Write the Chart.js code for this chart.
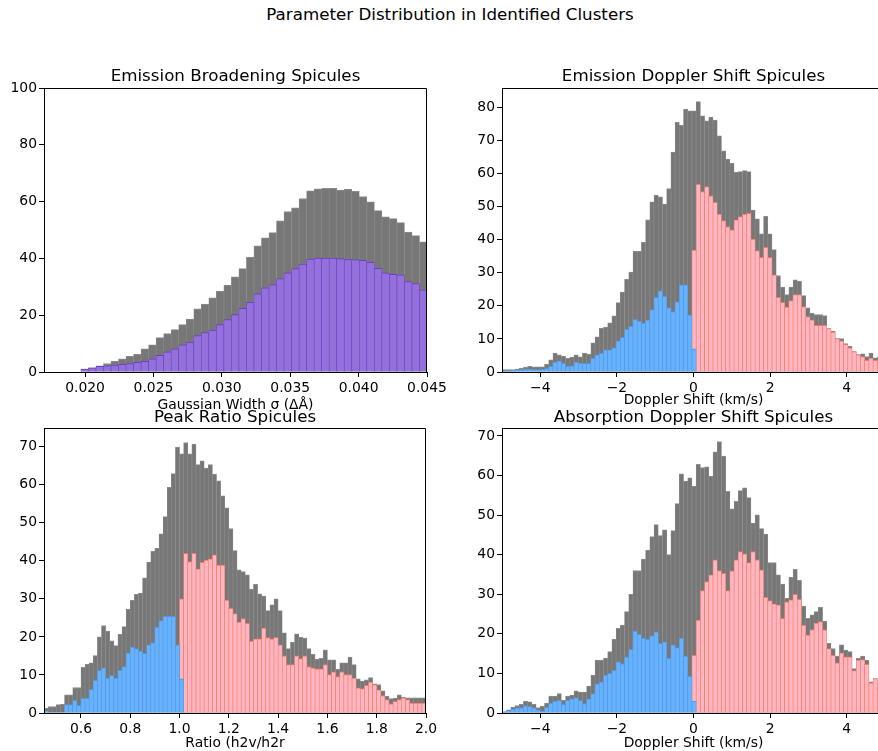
<!DOCTYPE html>
<html>
<head>
<meta charset="utf-8">
<title>Parameter Distribution in Identified Clusters</title>
<script src="https://cdn.jsdelivr.net/npm/chart.js@4.4.1/dist/chart.umd.min.js"></script>
<style>
  html, body { margin: 0; padding: 0; background: #fff; }
  body { width: 878px; height: 751px; overflow: hidden; position: relative; font-family: "DejaVu Sans", sans-serif; }
  #suptitle { position: absolute; left: 0; top: 4px; width: 900px; text-align: center; font-size: 16.7px; line-height: 20px; color: #000; }
  canvas { position: absolute; }
</style>
</head>
<body>
<div id="suptitle">Parameter Distribution in Identified Clusters</div>
<canvas id="broad" width="460" height="347" style="left:0;top:67px"></canvas>
<canvas id="emis" width="440" height="342" style="left:460px;top:67px"></canvas>
<canvas id="ratio" width="460" height="344" style="left:0;top:408px"></canvas>
<canvas id="absorp" width="440" height="344" style="left:460px;top:408px"></canvas>
<script>
// --- Emission broadening (gaussian width) ---
const broadBinStart = 0.0197;
const broadBinWidth = 0.00055;
const broadAll = [1.0, 1.5, 2.2, 3.0, 3.8, 4.6, 5.5, 6.2, 8.2, 9.6, 12.1, 13.5, 14.9, 16.7, 18.6, 22.2, 23.9, 26.1, 28.5, 30.6,
  33.5, 36.4, 40.5, 44.4, 47.2, 49.1, 53.2, 56.5, 57.8, 61.1, 63.8, 64.5, 64.7, 64.7, 64.1, 64.4, 63.6, 61.8, 59.9, 56.8,
  54.6, 54.0, 52.6, 49.3, 48.0, 45.8];
const broadCluster = [1.0, 1.5, 2.0, 2.2, 2.4, 2.7, 3.0, 3.4, 3.8, 4.6, 5.9, 7.1, 8.2, 9.6, 10.5, 12.8, 13.9, 14.8, 16.7, 18.5,
  20.2, 22.4, 24.5, 27.5, 29.6, 30.8, 32.9, 34.9, 36.4, 38.0, 39.8, 40.1, 40.1, 40.1, 39.9, 39.6, 39.6, 39.3, 38.6, 36.5,
  34.9, 34.4, 34.2, 31.8, 31.1, 28.9];
const broadXTicks = [0.020, 0.025, 0.030, 0.035, 0.040, 0.045];
const broadYTicks = [0, 20, 40, 60, 80, 100];

// --- doppler shift bins (shared by emission and absorption) ---
const dopBinStart = -4.99;
const dopBinWidth = 0.11;
const dopRedFirstBin = 45;
const dopXTicks = [-4, -2, 0, 2, 4];

// emission doppler shift
const emisAll = [0.7, 0.7, 0.7, 0.9, 1.1, 1.5, 1.7, 1.6, 1.6, 1.6,
  2.3, 3.7, 5.7, 5.2, 4.8, 4.1, 4.5, 5.2, 4.6, 5.7,
  5.4, 8.8, 10.6, 13.2, 13.6, 14.9, 17.0, 21.0, 24.2, 28.0,
  30.2, 36.5, 36.5, 39.2, 46.0, 51.5, 53.5, 53.0, 50.8, 55.5,
  66.5, 75.5, 74.6, 79.5, 79.0, 79.0, 81.8, 77.5, 76.0, 77.0,
  76.2, 71.4, 66.9, 64.4, 63.1, 60.4, 60.6, 60.9, 60.6, 49.0,
  46.3, 41.8, 47.1, 41.8, 37.0, 29.2, 25.7, 23.4, 25.7, 27.9,
  27.5, 23.1, 19.4, 17.8, 17.4, 17.4, 17.1, 13.1, 12.4, 10.1,
  10.1, 8.6, 7.8, 6.2, 5.3, 5.5, 4.7, 5.7, 4.3, 4.5];
const emisBlue = [0.4, 0.4, 0.5, 0.5, 0.7, 0.9, 0.9, 0.7, 0.7, 0.9,
  1.1, 1.7, 3.0, 3.4, 2.7, 1.7, 1.9, 3.0, 2.7, 2.6,
  2.6, 4.2, 5.2, 5.7, 6.7, 6.7, 7.3, 9.4, 10.5, 13.0,
  13.8, 15.9, 15.4, 14.8, 15.8, 18.9, 22.6, 24.6, 22.9, 19.5,
  18.3, 21.2, 26.4, 26.4, 17.3, 7.0];
const emisRed = [36.9, 56.8, 54.6, 56.1, 53.3, 51.3, 47.8, 45.8, 44.0, 43.0,
  46.0, 47.0, 47.8, 48.0, 40.2, 36.7, 34.7, 37.7, 34.7, 29.4,
  22.6, 21.1, 19.6, 21.6, 23.4, 23.4, 19.8, 16.8, 15.8, 14.1,
  14.1, 14.1, 13.1, 12.1, 10.1, 9.4, 8.4, 7.3, 6.2, 5.2,
  4.7, 3.5, 4.2, 3.5, 3.7];
const emisYTicks = [0, 10, 20, 30, 40, 50, 60, 70, 80];

// absorption doppler shift
const absAll = [0.3, 0.8, 1.5, 1.9, 2.2, 3.0, 2.8, 2.2, 1.4, 1.7,
  2.5, 4.3, 4.3, 4.9, 3.2, 4.3, 4.5, 5.6, 5.3, 5.3,
  6.8, 9.6, 13.4, 13.4, 13.9, 15.5, 18.6, 21.4, 22.2, 25.6,
  30.0, 36.0, 36.0, 38.9, 41.1, 44.6, 47.6, 44.8, 46.3, 40.0,
  46.1, 52.9, 60.4, 58.6, 59.4, 57.3, 62.8, 62.0, 62.2, 59.8,
  66.0, 68.6, 64.9, 56.0, 51.6, 53.5, 56.2, 56.9, 54.4, 48.0,
  50.1, 46.6, 45.2, 38.0, 38.0, 34.9, 32.6, 29.0, 34.3, 36.3,
  33.5, 27.0, 23.9, 24.8, 25.6, 26.7, 23.2, 17.6, 16.3, 14.4,
  17.2, 15.9, 15.5, 11.2, 13.8, 14.4, 13.4, 7.9, 8.7, 6.3];
const absBlue = [0.3, 0.7, 1.0, 1.3, 1.4, 1.9, 1.7, 1.3, 0.8, 0.4,
  1.5, 2.5, 3.0, 3.2, 2.2, 3.2, 3.6, 3.9, 3.2, 2.4,
  3.6, 4.9, 7.4, 7.9, 9.6, 10.0, 10.8, 12.9, 12.5, 14.2,
  16.1, 20.7, 19.9, 18.9, 18.6, 19.5, 20.5, 17.6, 18.0, 13.9,
  17.2, 16.5, 18.9, 14.4, 9.3, 3.0];
const absRed = [14.6, 23.5, 30.9, 33.2, 34.9, 38.7, 36.0, 35.3, 30.9, 35.9,
  38.7, 40.8, 40.2, 38.0, 40.8, 38.7, 36.2, 29.2, 28.4, 27.6,
  27.3, 23.9, 28.1, 28.6, 30.0, 28.7, 22.2, 19.7, 21.1, 22.7,
  23.1, 21.0, 16.3, 14.6, 12.7, 15.2, 14.2, 14.2, 10.7, 13.4,
  13.5, 12.3, 7.6, 8.7, 6.2];
const absYTicks = [0, 10, 20, 30, 40, 50, 60, 70];

// --- peak ratio ---
const ratioBinStart = 0.45;
const ratioBinWidth = 1 / 60;
const ratioRedFirstBin = 33;
const ratioAll = [1.3, 1.7, 1.7, 2.2, 2.3, 4.8, 4.8, 6.7, 6.7, 12.0,
  12.8, 13.2, 15.1, 20.0, 23.0, 21.5, 19.0, 17.7, 20.7, 22.7,
  27.3, 29.6, 31.2, 31.5, 35.5, 39.7, 42.5, 43.3, 47.1, 51.6,
  59.3, 62.9, 69.9, 68.1, 71.1, 68.1, 70.7, 65.3, 66.3, 64.4,
  65.3, 62.8, 61.0, 57.1, 53.9, 48.5, 42.7, 37.6, 37.2, 36.3,
  32.6, 33.8, 31.3, 30.7, 26.9, 28.4, 30.0, 26.9, 21.1, 16.9,
  18.6, 20.8, 19.9, 19.7, 16.9, 15.4, 14.1, 14.4, 16.6, 14.0,
  14.0, 11.5, 13.2, 13.2, 14.7, 12.7, 9.0, 8.4, 8.7, 9.3,
  7.7, 7.5, 5.8, 4.4, 3.8, 3.9, 4.8, 4.2, 4.0, 4.0,
  4.0, 4.0, 4.0];
const ratioBlue = [0.5, 0.2, 0.2, 0.2, 0.2, 2.2, 2.2, 3.3, 2.0, 3.9,
  3.9, 6.2, 8.6, 11.2, 11.9, 9.2, 9.9, 9.2, 11.2, 12.2,
  15.8, 17.3, 16.9, 16.3, 15.7, 17.9, 18.5, 22.6, 24.3, 25.4,
  25.4, 25.4, 17.9, 9.0];
const ratioRed = [30.0, 42.0, 39.8, 42.0, 37.9, 39.6, 40.2, 40.5, 41.6, 38.9,
  38.9, 29.7, 27.5, 26.1, 23.9, 24.8, 23.6, 18.9, 19.5, 19.5,
  22.3, 19.8, 19.5, 19.9, 17.9, 15.0, 12.7, 12.7, 15.0, 14.3,
  15.0, 12.2, 11.9, 11.6, 11.6, 12.7, 10.1, 10.8, 9.6, 10.8,
  10.1, 10.1, 9.2, 6.6, 6.4, 7.3, 8.1, 7.5, 6.1, 4.6,
  3.5, 2.4, 3.1, 3.5, 4.0, 3.5, 2.6, 2.6, 2.6, 2.6];
const ratioXTicks = [0.6, 0.8, 1.0, 1.2, 1.4, 1.6, 1.8, 2.0];
const ratioYTicks = [0, 10, 20, 30, 40, 50, 60, 70];

Chart.defaults.font.family = '"DejaVu Sans", sans-serif';
Chart.defaults.color = '#000';

const GREY = { bg: '#777777', edge: '#8c8c8c' };
const PURPLE = { bg: '#9370DB', edge: '#6b3fc2' };
const BLUE = { bg: '#66B2FF', edge: '#5296e0' };
const RED = { bg: '#FFB6C1', edge: '#F9765E' };

function toBins(start, width, counts, firstBin) {
  return counts.map((c, k) => ({ x: start + width * (firstBin + k + 0.5), y: c }));
}

function histSet(points, col, order) {
  return {
    data: points,
    backgroundColor: col.bg,
    borderColor: col.edge,
    borderWidth: { top: 1, left: 0.6, right: 0.6, bottom: 0 },
    barPercentage: 1,
    categoryPercentage: 1,
    grouped: false,
    order: order
  };
}

// draws the top and right spines
const frame = {
  id: 'frame',
  afterDatasetsDraw(chart) {
    const { ctx, chartArea: a } = chart;
    const t = Math.round(a.top) + 0.5, r = Math.round(a.right) - 0.5;
    ctx.save();
    ctx.strokeStyle = '#000';
    ctx.lineWidth = 1;
    ctx.beginPath();
    ctx.moveTo(a.left, t);
    ctx.lineTo(r, t);
    ctx.lineTo(r, a.bottom);
    ctx.stroke();
    ctx.restore();
  }
};

const minus = v => String(v).replace('-', '\u2212');

function panel(id, p) {
  const axisCommon = {
    grid: { drawOnChartArea: false, drawTicks: true, tickLength: 5, color: '#000', offset: false },
    border: { display: true, color: '#000', width: 1, z: 1 }
  };
  new Chart(document.getElementById(id), {
    type: 'bar',
    data: { datasets: p.datasets },
    options: {
      responsive: false,
      animation: false,
      devicePixelRatio: 1,
      layout: { padding: { left: 0, top: 0, right: p.padRight, bottom: 0 } },
      plugins: {
        legend: { display: false },
        tooltip: { enabled: false },
        title: {
          display: true, text: p.title, color: '#000', fullSize: false,
          font: { size: 16.7, weight: 'normal' },
          padding: { top: 0, bottom: p.titleGap }
        }
      },
      scales: {
        x: {
          type: 'linear', offset: false, min: p.xMin, max: p.xMax,
          afterFit: s => { s.height = p.xAxisHeight; s.paddingLeft = 0; s.paddingRight = 0; },
          afterBuildTicks: s => { s.ticks = p.xTicks.map(v => ({ value: v })); },
          ticks: { callback: p.xFmt, font: { size: 13.9 }, padding: 3, maxRotation: 0, autoSkip: false },
          title: { display: true, text: p.xLabel, font: { size: 13.9 }, padding: 0 },
          ...axisCommon
        },
        y: {
          min: 0, max: p.yMax,
          afterFit: s => { s.width = p.yAxisWidth; s.paddingTop = 0; s.paddingBottom = 0; },
          afterBuildTicks: s => { s.ticks = p.yTicks.map(v => ({ value: v })); },
          ticks: { font: { size: 13.9 }, padding: 2, autoSkip: false },
          ...axisCommon
        }
      }
    },
    plugins: [frame]
  });
}

panel('broad', {
  title: 'Emission Broadening Spicules',
  xLabel: 'Gaussian Width \u03c3 (\u0394\u00c5)',
  xMin: 0.017, xMax: 0.045, yMax: 100,
  xTicks: broadXTicks, yTicks: broadYTicks,
  xFmt: v => v.toFixed(3),
  yAxisWidth: 44, xAxisHeight: 42, padRight: 33, titleGap: 0.96,
  datasets: [
    histSet(toBins(broadBinStart, broadBinWidth, broadAll, 0), GREY, 2),
    histSet(toBins(broadBinStart, broadBinWidth, broadCluster, 0), PURPLE, 1)
  ]
});

panel('emis', {
  title: 'Emission Doppler Shift Spicules',
  xLabel: 'Doppler Shift (km/s)',
  xMin: -5, xMax: 5, yMax: 85.9,
  xTicks: dopXTicks, yTicks: emisYTicks,
  xFmt: minus,
  yAxisWidth: 42, xAxisHeight: 37, padRight: 15, titleGap: 0.96,
  datasets: [
    histSet(toBins(dopBinStart, dopBinWidth, emisAll, 0), GREY, 3),
    histSet(toBins(dopBinStart, dopBinWidth, emisRed, dopRedFirstBin), RED, 2),
    histSet(toBins(dopBinStart, dopBinWidth, emisBlue, 0), BLUE, 1)
  ]
});

panel('ratio', {
  title: 'Peak Ratio Spicules',
  xLabel: 'Ratio (h2v/h2r',
  xMin: 0.45, xMax: 2.0, yMax: 74.9,
  xTicks: ratioXTicks, yTicks: ratioYTicks,
  xFmt: v => v.toFixed(1),
  yAxisWidth: 44, xAxisHeight: 39, padRight: 34, titleGap: 0,
  datasets: [
    histSet(toBins(ratioBinStart, ratioBinWidth, ratioAll, 0), GREY, 3),
    histSet(toBins(ratioBinStart, ratioBinWidth, ratioRed, ratioRedFirstBin), RED, 2),
    histSet(toBins(ratioBinStart, ratioBinWidth, ratioBlue, 0), BLUE, 1)
  ]
});

panel('absorp', {
  title: 'Absorption Doppler Shift Spicules',
  xLabel: 'Doppler Shift (km/s)',
  xMin: -5, xMax: 5, yMax: 72.0,
  xTicks: dopXTicks, yTicks: absYTicks,
  xFmt: minus,
  yAxisWidth: 42, xAxisHeight: 39, padRight: 15, titleGap: 0,
  datasets: [
    histSet(toBins(dopBinStart, dopBinWidth, absAll, 0), GREY, 3),
    histSet(toBins(dopBinStart, dopBinWidth, absRed, dopRedFirstBin), RED, 2),
    histSet(toBins(dopBinStart, dopBinWidth, absBlue, 0), BLUE, 1)
  ]
});
</script>
</body>
</html>
